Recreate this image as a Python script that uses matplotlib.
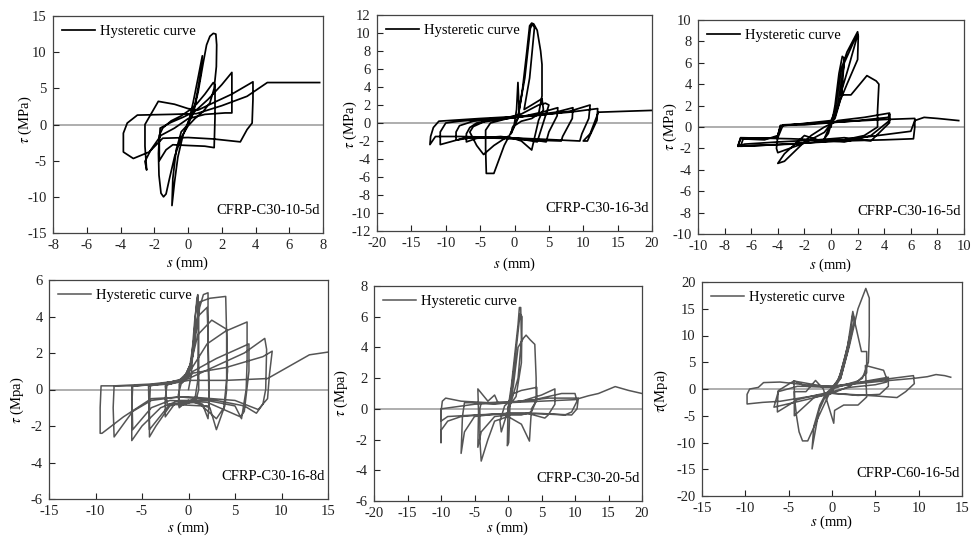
import matplotlib
matplotlib.use("Agg")
import matplotlib.pyplot as plt
import numpy as np

plt.rcParams['font.family'] = ['Liberation Serif', 'DejaVu Serif']
plt.rcParams['mathtext.fontset'] = 'stix'
plt.rcParams['axes.unicode_minus'] = False

# ---------------- data (s in mm, tau in MPa) ----------------
c30_10_5d = [(0,0),(0.3,3),(0.6,6.5),(0.85,9.5),(0.75,7),(0.4,2.5),(0.0,0.3),(-0.3,-1.5),(-0.6,-4.5),(-0.8,-8),(-0.95,-11.2),(-0.9,-7.5),(-0.7,-3.5),(-0.4,-1),(0,0),
 (0.3,1.5),(0.6,4.5),(0.9,8.5),(1.1,11),(1.3,12.2),(1.5,12.6),(1.65,12.5),(1.7,11),(1.68,8),(1.55,5),(1.3,3),(0.9,1.8),(0.4,0.8),(0.0,-0.2),(-0.4,-1.8),(-0.8,-4.5),(-1.1,-7.5),(-1.3,-9.6),(-1.45,-10),(-1.6,-9.5),(-1.72,-7),(-1.75,-4),(-1.7,-1.5),(-1.5,-0.5),(-1.0,0.5),(-0.4,1.2),(0.1,2),(0.5,2.8),
 (1.0,4.2),(1.5,5.8),(1.6,5.5),(1.6,1),(1.55,-3.2),(1.0,-3.0),(0.0,-2.9),(-0.9,-2.8),(-1.3,-3.5),(-1.7,-5),(-1.7,-2.5),(-1.65,-0.5),(-1.0,0.3),(-0.3,1.0),(0.4,1.8),
 (1.2,3.5),(2.0,5.5),(2.6,7.2),(2.6,4),(2.6,1.6),(2.2,1.6),(1.0,1.4),(0.0,0.8),(-0.8,-0.5),(-1.6,-1.5),(-2.2,-3.5),(-2.55,-5.1),(-2.45,-6.3),(-2.55,-3),(-2.55,0.0),(-1.76,3.2),(-0.8,2.8),(0.0,2.2),(0.6,2.0),
 (1.5,3.0),(2.6,4.2),(3.85,5.9),(3.85,3.5),(3.8,0.2),(3.5,-0.7),(3.1,-2.4),(1.5,-2.0),(0.0,-1.8),(-1.5,-1.9),(-2.3,-3.8),(-3.24,-4.7),(-3.83,-3.8),(-3.83,-1.2),(-3.6,0.2),(-3.0,1.3),(-1.0,1.4),(0.5,1.5),(2.0,2.6),(3.5,3.9),(4.7,5.8),(6.0,5.8),(7.8,5.8)]

c30_16_3d = [(0,0),(0.3,1.5),(0.5,4.5),(0.7,1),(0.2,0),(-0.5,-1.2),(-0.3,-0.5),(0.5,0.5),(1.2,4),(1.8,8),(2.2,10.8),(2.5,11.1),(2.8,11),(3.3,10.3),(3.8,8),(4.0,6.5),(4.0,3),(3.5,1.0),(2.5,0.5),(1.0,0.2),(0,-0.3),
 (-1.5,-2.5),(-3.0,-5.6),(-4.1,-5.6),(-4.2,-3),(-4.2,-0.8),(-3.5,0),(-1,0.5),(0.5,0.7),(1.5,5),(2.3,10.5),(2.6,11),(2.9,10.6),(2.2,5),(1.4,1.5),(2.5,2),(4.0,2.7),(4.2,1.5),(3.5,0.3),(2.5,-3.0),(1,-2),(-1,-1.5),
 (-3,-2.5),(-4.5,-3.5),(-5.5,-2.5),(-6.5,-1.0),(-6.0,-0.4),(-4,0.3),(-1,0.6),(1,1.0),(3.5,2.0),(4.5,2.2),(5.0,2.0),(4.3,0.3),(3.3,-2.1),(1,-1.8),(-2,-1.5),(-5.5,-1.7),(-7,-2.1),(-7.0,-1.2),(-6.5,-0.5),(-5.5,0),
 (-2,0.4),(1,0.7),(4,1.2),(6.3,1.7),(6.2,0.8),(5.0,-1.0),(4.6,-2.1),(2,-1.8),(-2,-1.6),(-6,-1.6),(-8.5,-1.9),(-8.5,-1.0),(-8.0,-0.3),(-6,0.2),(-2,0.5),(2,0.8),(6,1.2),(8.5,1.7),(8.4,0.5),(7,-1.5),(6.8,-2.0),
 (3,-1.9),(-2,-1.7),(-7,-1.6),(-10.8,-2.4),(-10.8,-1.0),(-10.0,0.0),(-8,0.2),(-3,0.5),(3,0.8),(8,1.3),(11,2.0),(10.8,0.5),(9.8,-1.2),(9.5,-2.0),(4,-1.8),(-2,-1.6),(-8,-1.5),(-11.5,-1.5),(-12.3,-2.4),
 (-12.2,-1.5),(-11.8,-0.5),(-11,0.2),(-5,0.5),(2,0.8),(8,1.2),(12.1,1.6),(12,0.3),(10.6,-2.0),(10,-2.0),(11,-1.2),(12.2,1.2),(16,1.3),(20,1.4)]

c30_16_5d = [(0,0),(0.3,2),(0.6,5),(0.85,6.6),(1.0,6.4),(0.8,3),(0.3,1),(-0.3,-0.5),(-0.5,-1.1),(-0.2,-0.6),(0.3,1.5),(0.8,5.5),(1.2,7),(2.0,8.9),(2.05,8.5),(2.0,6.3),(1.2,4),(0.7,2.5),(0.3,0.8),
 (-0.5,-0.5),(-2,-1.5),(-4.0,-2.4),(-4.1,-2.0),(-4.0,-0.8),(-3.8,0.1),(-1.5,0.4),(0,0.6),(0.5,2),(1.0,6),(1.9,8.5),(2.0,8.6),(1.3,5.5),(0.7,3),(1.5,3),(2.7,4.8),(3.4,4.3),(3.6,4.0),(3.5,1.5),(3.5,0),
 (2.5,-0.8),(1,-1.2),(-1,-1.2),(-2,-0.8),(-3.5,-2.5),(-4.0,-3.4),(-3.5,-3.2),(-2.5,-2),(-1.5,-0.8),(-0.5,0),(0.5,0.6),(2.5,0.9),(4.4,1.3),(4.4,0.6),(3.5,-0.3),(3,-0.8),(1.0,-1.4),(-1,-1.2),(-3,-1.1),
 (-6.8,-1.0),(-7.0,-1.8),(-6.5,-1.6),(-4,-1.4),(-1,-1.2),(1,-1.0),(3,-1.3),(4.4,0.4),(4.4,1.2),(4.3,0.9),(2,0.6),(0,0.4),(-2,0.2),(-3.8,0.15),(-4.0,-0.8),(-5,-1.2),(-6.8,-1.1),(-7,-1.8),(-5,-1.7),
 (-2,-1.5),(1,-1.3),(4,-1.2),(6.2,-1.1),(6.3,0.0),(6.3,0.8),(4,0.7),(1,0.5),(-2,0.3),(-3.6,0.2),(-4,-1.0),(-6.6,-1.1),(-6.8,-1.8),(-3,-1.6),(1,-1.2),(6.0,-0.4),(6.3,0.6),(7,0.9),(8,0.8),(9.6,0.6)]

c30_16_8d = [(0,0),(0.3,0.8),(0.6,3),(0.9,5.0),(1.0,5.2),(1.05,3),(1.0,0.5),(0.7,-0.5),(-0.3,-0.7),(-1.0,-1.0),(-1.1,-0.3),(-0.8,0.3),(-0.2,0.6),(0.3,1.5),(0.7,4),(1.0,5.1),(1.1,4),(1.1,0),(0.8,-0.6),
 (-1.0,-0.9),(-1.0,0.3),(0,0.7),(0.5,2),(1.2,4.5),(1.6,5.2),(2.1,5.3),(2.1,3),(2.2,0),(2.2,-0.8),(2.1,-1.6),(1.5,-0.8),(0,-0.6),(-1.5,-0.8),(-2.5,-1.5),(-2.5,-0.5),(-2.3,0.3),(-1,0.5),(0,0.8),(0.5,2.5),
 (1.0,4),(2.0,4.5),(2.1,3),(2.2,-0.9),(1.5,-0.9),(-2.3,-0.8),(-2.5,0.2),(-0.5,0.6),(0.3,1.5),(1.2,4.8),(2.3,5.0),(4.0,5.1),(4.1,3),(4.1,0),(3.9,-0.9),(3.0,-2.2),(2.3,-1.0),(0,-0.6),(-2,-0.9),(-3.5,-2.0),
 (-4.2,-2.6),(-4.2,-1),(-4.1,0.2),(-2,0.4),(-0.5,0.6),(0.3,1.5),(1,3),(2.5,3.8),(4.1,3.3),(4.2,1),(3.8,-1.0),(3.0,-1.6),(1,-0.7),(-2,-0.8),(-4.2,-2.2),(-4.3,0.2),(-1,0.5),(0.4,1.2),(2,2.5),(4,3.2),
 (6.3,3.7),(6.3,1.5),(6.2,0),(5.7,-1.6),(5,-0.9),(2,-0.6),(-1,-0.6),(-3,-1.0),(-5,-2.0),(-6.1,-2.8),(-6.1,-1.0),(-6.0,0.2),(-3,0.3),(-0.5,0.5),(0.5,1),(3,1.7),(6.5,2.5),(6.5,1.0),(6.0,-1.2),(5.6,-1.5),
 (2,-0.7),(-2,-0.6),(-4,-1.0),(-6.0,-2.2),(-6.1,0.2),(-2,0.3),(0,0.6),(3,1.3),(6,2.0),(8.2,2.8),(8.4,2.2),(8.3,0),(8.0,-0.8),(7.3,-1.3),(6,-0.9),(3,-0.6),(-1,-0.4),(-4,-0.6),(-6,-1.2),(-8.0,-2.6),
 (-8.1,-1.0),(-8.0,0.2),(-4,0.3),(-0.5,0.5),(0.5,0.9),(4,1.2),(8,1.8),(9.0,2.1),(8.7,0.8),(8.5,-0.5),(7.5,-1.1),(5,-0.6),(0,-0.4),(-4,-0.5),(-7,-1.5),(-9.3,-2.4),(-9.5,-2.4),(-9.5,-1.0),(-9.4,0.2),
 (-6,0.2),(-2,0.3),(0,0.5),(4,0.5),(8.5,0.6),(13,1.9),(15,2.05)]

c30_20_5d = [(0,0),(0.5,1.5),(1.0,3.5),(1.5,5.5),(1.7,6.6),(1.9,6.6),(2.0,4.5),(1.5,2),(0.5,0.5),(-0.5,-0.8),(-1.0,-1.5),(-1.2,-0.8),(-0.5,0.2),(0.3,0.5),(1.0,3),(1.8,6.2),(2.1,6.0),(2.0,3),(1.2,0.8),
 (0,0.1),(-0.1,-2.4),(0.1,-2.2),(0.3,0.3),(0.8,1.5),(1.5,4),(2.3,4.6),(2.7,4.8),(3.3,4.5),(4.0,4.2),(4.2,2),(4.2,0.5),(3.5,0.0),(3.2,-2.1),(2.0,-1.0),(0,-0.5),(-2.0,-0.8),(-3,-2.0),(-4,-3.4),(-4.2,-2.0),
 (-4.2,0.0),(-4.0,0.4),(-2,0.3),(0,0.4),(0.8,1.0),(2,1.2),(4.3,1.4),(4.3,0.6),(3.5,-0.2),(2,-0.4),(0,-0.4),(-2,-0.5),(-4,-1.5),(-4.5,-2.5),(-4.4,-0.2),(-4.5,1.3),(-3,0.5),(-2,0.9),(-1.5,0.4),(0,0.4),
 (2,0.5),(5,0.9),(7,1.3),(7,0.3),(6.0,-0.4),(5.5,-0.6),(3,-0.3),(0,-0.3),(-3,-0.4),(-5,-0.5),(-6.5,-1.5),(-7,-2.9),(-6.8,-0.5),(-6.5,0.4),(-4,0.4),(0,0.4),(4,0.6),(8,1.0),(10,1.0),(10.3,0.5),(9.5,-0.2),
 (8.5,-0.4),(4,-0.3),(0,-0.3),(-4,-0.4),(-7,-0.5),(-9,-0.8),(-10,-1.4),(-10,-2.2),(-10,-0.2),(-9.8,0.5),(-9.3,0.7),(-7,0.5),(-3,0.4),(2,0.5),(6,0.7),(10.5,0.7),(10.3,0.0),(9.5,-0.4),(5,-0.3),(0,-0.3),
 (-5,-0.4),(-9,-0.5),(-10,-0.8),(-10,0.0),(-5,0.3),(0,0.4),(5,0.5),(10,0.6),(12,0.85),(13.5,1.0),(16,1.45),(18,1.2),(20,1.0)]

c60_16_5d = [(0,0),(0.5,1),(1.0,3),(1.8,8),(2.4,14.5),(2.6,13),(1.8,7),(1.0,2),(0,-0.5),(-0.8,-1.5),(-1.5,-4),(-2.3,-11.2),(-2.1,-7),(-1.4,-3),(-0.7,-0.8),(0,0.2),(0.8,2),(1.5,6),(2.2,11),(2.4,14),
 (2.7,12),(3.4,7),(4.0,7),(4.0,3),(3.0,1.5),(1.5,0.8),(0,0),(-0.5,-1.5),(-1.5,-5),(-2.8,-9.7),(-3.4,-9.7),(-3.8,-8),(-4.1,-5),(-4.3,-2),(-4.4,1.5),(-2,0.8),(0,0.3),(1.0,2),(2.0,8),(3.0,15),(3.9,18.8),
 (4.3,17.0),(4.3,10),(4.2,5),(3.5,2),(2.0,0.5),(0.5,-0.5),(-0.5,-1.0),(-2,-1.5),(-4.35,-5.0),(-4.35,-4.5),(-4.35,-0.5),(-3,-0.5),(-1.9,1.6),(-1.0,0.0),(0.2,-6.4),(0.3,-4),(1.35,-3),(3,-3),(4,-1.5),(3.85,4.4),
 (5.95,3.5),(6.3,2),(6.3,1.3),(5,0.8),(2,0.3),(0,-0.5),(-2,-1.2),(-4,-2),(-6.3,-4.3),(-6.3,-3),(-6.2,-0.3),(-4.4,1.5),(-3,0.5),(0,0.3),(2,0.8),(4,1.5),(6.5,2.2),(6.5,0.5),(5.5,-1.0),(3,-1.2),(0,-0.8),
 (-3,-2),(-6.7,-3.4),(-6.2,-0.5),(-4,0.5),(0,0.5),(3,1.2),(6,1.8),(9.4,2.5),(9.5,1.0),(8.5,-0.5),(7.5,-1.6),(5,-1.3),(2,-1),(0,-0.8),(-3,-1.5),(-6,-2.3),(-8,-2.5),(-9.8,-2.8),(-9.8,-1),(-9.5,0),
 (-8.5,0.3),(-7.9,1.2),(-6,1.3),(-2,0.6),(0,0.5),(3,1.0),(6,1.5),(9.5,2.0),(11,2.3),(12,2.7),(13,2.5),(13.7,2.2)]

labels = ["CFRP-C30-10-5d", "CFRP-C30-16-3d", "CFRP-C30-16-5d",
          "CFRP-C30-16-8d", "CFRP-C30-20-5d", "CFRP-C60-16-5d"]
ylabels = [r"$\tau$ (MPa)", r"$\tau$ (MPa)", r"$\tau$ (MPa)",
           r"$\tau$ (Mpa)", r"$\tau$ (Mpa)", r"$\tau$(Mpa)"]
xlims = [(-8, 8), (-20, 20), (-10, 10), (-15, 15), (-20, 20), (-15, 15)]
xsteps = [2, 5, 2, 5, 5, 5]
ylims = [(-15, 15), (-12, 12), (-10, 10), (-6, 6), (-6, 8), (-20, 20)]
ysteps = [5, 2, 2, 2, 2, 5]
legend_text = "Hysteretic curve"

# ---------------- layout ----------------
W, H = 973, 536
boxes = [(53, 16, 323, 233), (377, 15, 652, 231), (698, 20, 964, 234),
         (49, 280, 328, 499), (374, 286, 642, 501), (702, 282, 962, 496)]
ylab_dx = [28, 27, 28, 32, 33, 41]      # px left of axes for y-label centre
ylab_y = [0.52, 0.49, 0.5, 0.45, 0.5, 0.49]
xlab_dy = [30, 33, 31, 29, 27, 26]      # px below axes for x-label centre
colors = ['black', 'black', 'black', '#555555', '#555555', '#555555']
widths = [1.25, 1.25, 1.25, 1.1, 1.1, 1.1]
datasets = [c30_10_5d, c30_16_3d, c30_16_5d, c30_16_8d, c30_20_5d, c60_16_5d]

fig = plt.figure(figsize=(W/100, H/100), dpi=100)
for i in range(6):
    l, t, r, b = boxes[i]
    w, h = r - l, b - t
    ax = fig.add_axes([l/W, 1 - b/H, w/W, h/H])
    ax.axhline(0, color='#a8a8a8', lw=1.3, zorder=1)
    s = [p[0] for p in datasets[i]]
    tau = [p[1] for p in datasets[i]]
    line, = ax.plot(s, tau, color=colors[i], lw=widths[i], zorder=2)
    ax.set_xlim(*xlims[i]); ax.set_ylim(*ylims[i])
    ax.set_xticks(np.arange(xlims[i][0], xlims[i][1] + 0.01, xsteps[i]))
    ax.set_yticks(np.arange(ylims[i][0], ylims[i][1] + 0.01, ysteps[i]))
    ax.tick_params(direction='in', length=4, width=0.8, labelsize=10.5,
                   top=False, right=False, colors='#222222')
    ax.tick_params(axis='x', pad=4)
    ax.tick_params(axis='y', pad=4.5)
    for sp in ax.spines.values():
        sp.set_color('#444444'); sp.set_linewidth(0.9)
    ax.set_xlabel(r"$s$ (mm)", fontsize=10.5)
    ax.set_ylabel(ylabels[i], fontsize=10.5)
    ax.xaxis.set_label_coords(0.5, -xlab_dy[i] / h)
    ax.xaxis.label.set_va('center')
    ax.yaxis.set_label_coords(-ylab_dx[i] / w, ylab_y[i])
    ax.yaxis.label.set_va('center')
    ax.legend([line], [legend_text], loc='upper left', frameon=False, fontsize=10.5,
              handlelength=2.3, handletextpad=0.3, borderaxespad=0.2, borderpad=0.4)
    ax.text(0.99, 0.105, labels[i], transform=ax.transAxes, ha='right', va='center',
            fontsize=10.5)

fig.savefig("out.png", dpi=100)
